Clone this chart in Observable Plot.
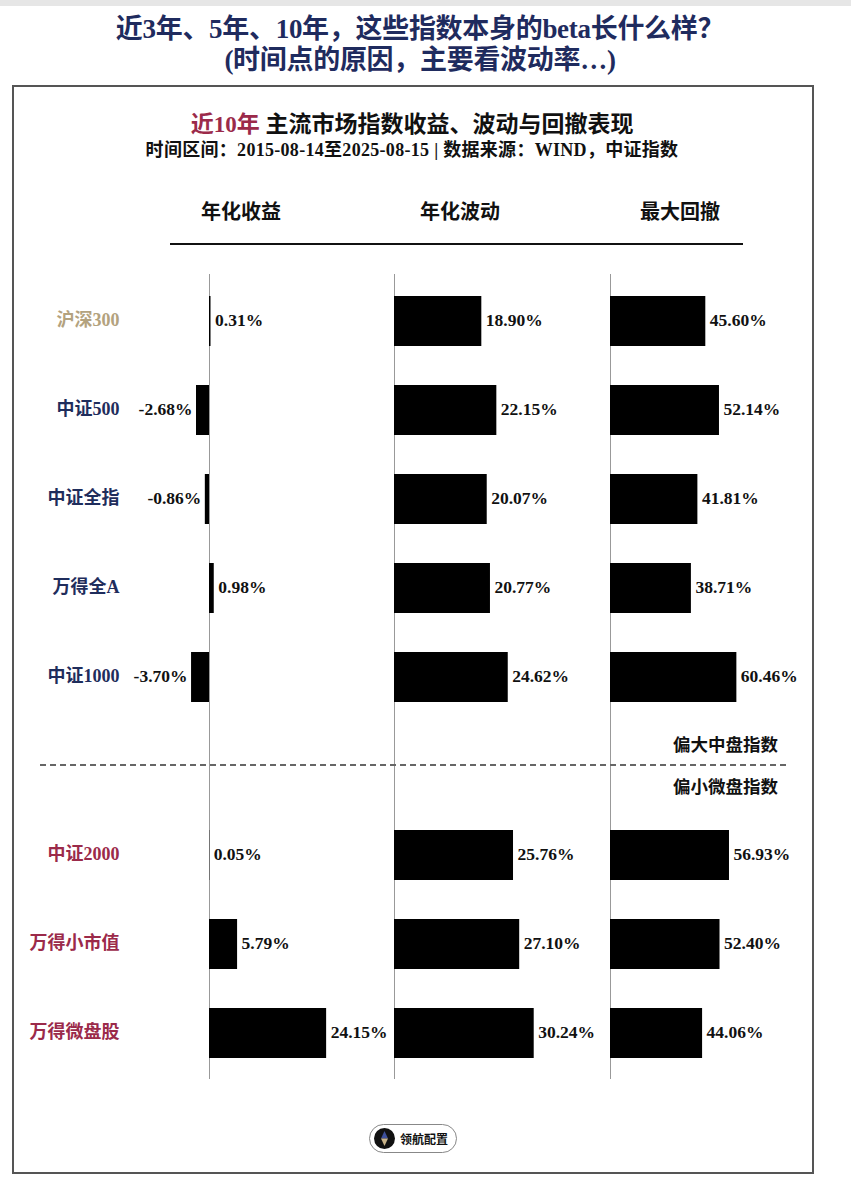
<!DOCTYPE html>
<html><head><meta charset="utf-8">
<script src="https://cdn.jsdelivr.net/npm/d3@7"></script>
<script src="https://cdn.jsdelivr.net/npm/@observablehq/plot@0.6"></script>
<style>
body{margin:0;background:#fff;}
#page{position:relative;width:851px;height:1182px;overflow:hidden;font-family:"Liberation Serif","DejaVu Serif","Noto Sans CJK SC",serif;font-weight:bold;}
.abs{position:absolute;}
#topbar{left:0;top:0;width:851px;height:6px;background:#e6e6e6;}
#title{left:0;top:14px;width:840px;text-align:center;color:#1f2b5e;font-size:27px;line-height:31px;letter-spacing:-0.3px;}
#box{left:12px;top:85px;width:798px;height:1085px;border:2px solid #555;}
#sub1{left:12px;top:105px;width:800px;text-align:center;font-size:23px;color:#111;}
#sub1 span{color:#9b2a4a;}
#sub2{left:12px;top:135px;width:800px;text-align:center;font-size:18px;color:#111;letter-spacing:0.3px;}
.hdr{top:196px;font-size:20px;color:#111;width:160px;text-align:center;}
#uline{left:170px;top:243px;width:573px;height:2px;background:#111;}
#dash{left:40px;top:764px;width:746px;height:0;border-top:2px dashed #666;}
.grp{font-size:17.5px;color:#111;right:73px;}
#logo{left:369px;top:1124px;width:86px;height:27px;border:1px solid #888;border-radius:15px;}
#logo .c{left:4px;top:3px;width:21px;height:21px;border-radius:50%;background:#111;}
#logo .t{left:30px;top:5px;font-size:12px;color:#111;}
</style></head>
<body>
<div id="page">
  <div id="topbar" class="abs"></div>
  <div id="title" class="abs">近3年、5年、10年，这些指数本身的beta长什么样？<br>(时间点的原因，主要看波动率…)</div>
  <div id="box" class="abs"></div>
  <div id="sub1" class="abs"><span>近10年</span> 主流市场指数收益、波动与回撤表现</div>
  <div id="sub2" class="abs">时间区间：2015-08-14至2025-08-15 | 数据来源：WIND，中证指数</div>
  <div class="abs hdr" style="left:161px">年化收益</div>
  <div class="abs hdr" style="left:380px">年化波动</div>
  <div class="abs hdr" style="left:600px">最大回撤</div>
  <div id="uline" class="abs"></div>
  <div id="p1" class="abs" style="left:12px;top:272px"></div>
  <div id="p2" class="abs" style="left:385px;top:272px"></div>
  <div id="p3" class="abs" style="left:600px;top:272px"></div>
  <div id="dash" class="abs"></div>
  <div class="abs grp" style="top:731px">偏大中盘指数</div>
  <div class="abs grp" style="top:773px">偏小微盘指数</div>
  <div id="logo" class="abs">
    <div class="abs c"><svg width="21" height="21"><path d="M10.5 3 L14 10.5 L7 10.5 Z" fill="#3d4f9a"/><path d="M7 10.5 L14 10.5 L10.5 18 Z" fill="#c9b48a"/></svg></div>
    <div class="abs t">领航配置</div>
  </div>
</div>
<script>
const names = ["沪深300","中证500","中证全指","万得全A","中证1000","中证2000","万得小市值","万得微盘股"];
const nameColors = ["#b3a27e","#1f2d5c","#1f2d5c","#1f2d5c","#1f2d5c","#9b2a4a","#9b2a4a","#9b2a4a"];
const annualReturn = [0.31,-2.68,-0.86,0.98,-3.70,0.05,5.79,24.15];
const annualVol = [18.90,22.15,20.07,20.77,24.62,25.76,27.10,30.24];
const maxDrawdown = [45.60,52.14,41.81,38.71,60.46,56.93,52.40,44.06];
const slots = [...names.slice(0,5), "", ...names.slice(5)];

const FONT = '"Liberation Serif","DejaVu Serif","Noto Sans CJK SC",serif';
const H = 808;

function panel(values, opts) {
  const data = names.map((n,i) => ({name:n, v:values[i], color:nameColors[i]}));
  const fmt = d => d.v.toFixed(2) + "%";
  const marks = [
    Plot.ruleX([0], {stroke:"#999", strokeWidth:1}),
    Plot.barX(data, {x:"v", y:"name", fill:"#000"}),
    Plot.text(data.filter(d=>d.v>=0), {x:"v", y:"name", text:fmt, textAnchor:"start", dx:4, dy:-1, fill:"#111", fontWeight:"bold", fontSize:17.5}),
    Plot.text(data.filter(d=>d.v<0), {x:"v", y:"name", text:fmt, textAnchor:"end", dx:-4, dy:-1, fill:"#111", fontWeight:"bold", fontSize:17.5})
  ];
  if (opts.labels) {
    marks.push(Plot.text(data, {y:"name", text:"name", frameAnchor:"left", textAnchor:"end", dx:-6, dy:-1, fill:"color", fontWeight:"bold", fontSize:18}));
  }
  return Plot.plot({
    width: opts.width, height: H,
    marginTop:2, marginBottom:1, marginLeft: opts.marginLeft || 0, marginRight:0,
    style:{fontFamily:FONT, background:"transparent", overflow:"visible"},
    x:{domain:opts.domain, range:opts.range, axis:null},
    y:{domain:slots, range:[2.5, 807.5], paddingInner:0.44, paddingOuter:0.22, axis:null},
    marks: [Plot.ruleX([0], {stroke:"#999", strokeWidth:1, y1:0, y2:0}), ...marks]
  });
}

document.getElementById("p1").append(panel(annualReturn, {width:370, marginLeft:113, domain:[-5,30], range:[197-5*4.85, 197+30*4.85], labels:true}));
document.getElementById("p2").append(panel(annualVol, {width:225, domain:[0,35], range:[9, 9+35*4.62]}));
document.getElementById("p3").append(panel(maxDrawdown, {width:210, domain:[0,70], range:[10, 10+70*2.09]}));
</script>
</body></html>
